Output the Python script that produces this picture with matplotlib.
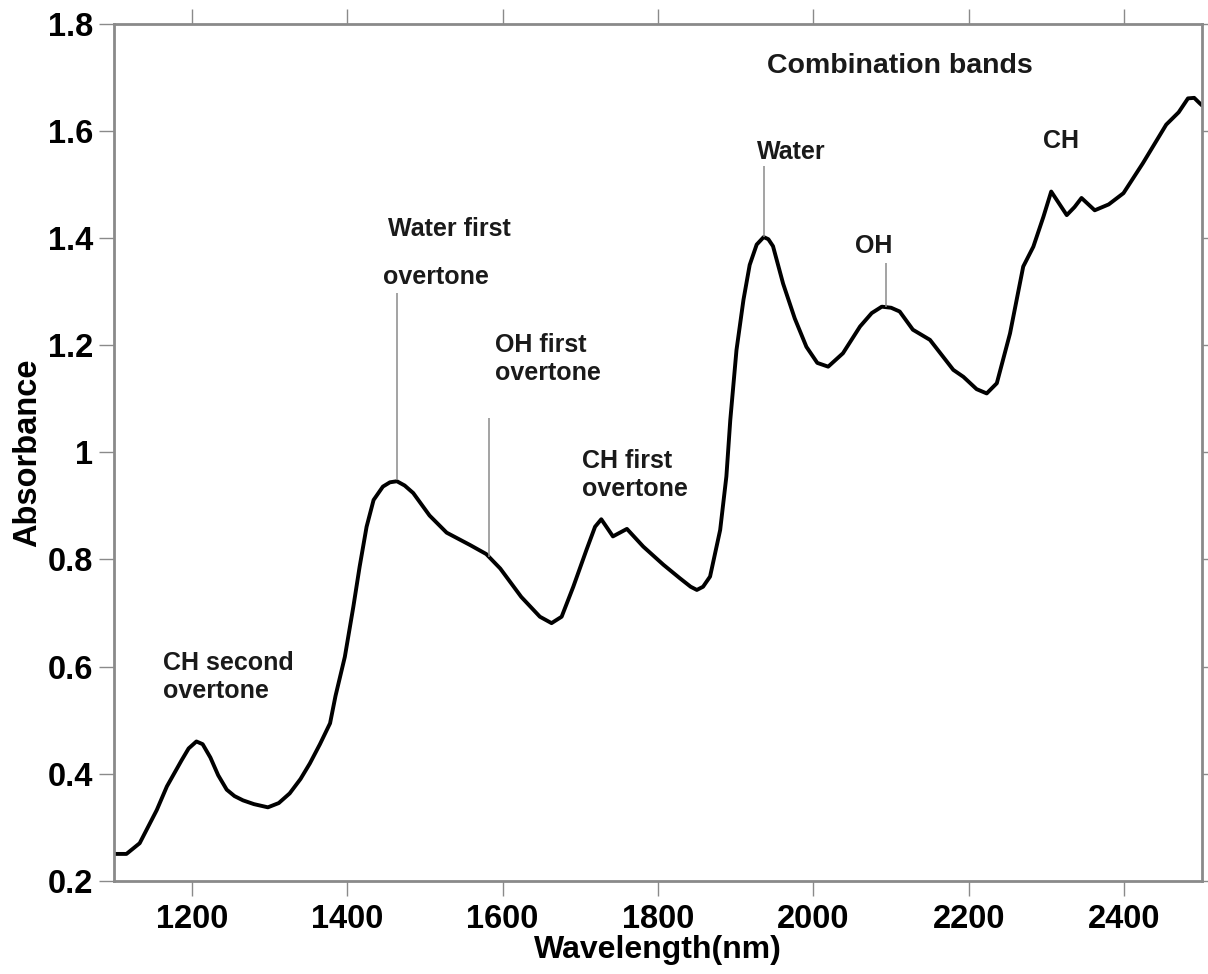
import matplotlib
matplotlib.use("Agg")
import matplotlib.pyplot as plt

# spectrum
wavelength = [1100, 1116, 1133, 1155, 1168, 1187, 1196, 1206, 1214, 1224,
              1234, 1245, 1255, 1266, 1280, 1298, 1312, 1326, 1340, 1352,
              1365, 1378, 1385, 1397, 1408, 1416, 1425, 1434, 1446, 1455,
              1464, 1474, 1485, 1506, 1528, 1558, 1579, 1597, 1624, 1648,
              1663, 1676, 1691, 1708, 1719, 1727, 1735, 1742, 1751, 1760,
              1781, 1807, 1828, 1842, 1850, 1858, 1867, 1880, 1888, 1893,
              1901, 1910, 1918, 1927, 1936, 1942, 1948, 1961, 1976, 1991,
              2005, 2019, 2038, 2060, 2075, 2088, 2100, 2111, 2128, 2150,
              2180, 2193, 2210, 2223, 2236, 2253, 2270, 2283, 2296, 2306,
              2316, 2326, 2336, 2345, 2362, 2380, 2399, 2424, 2454, 2470,
              2482, 2490, 2497, 2500]
absorbance = [0.250, 0.250, 0.270, 0.332, 0.376, 0.425, 0.447, 0.460, 0.455, 0.430,
              0.397, 0.370, 0.358, 0.350, 0.343, 0.337, 0.345, 0.363, 0.390, 0.419,
              0.455, 0.494, 0.545, 0.618, 0.712, 0.786, 0.861, 0.911, 0.936, 0.944,
              0.946, 0.938, 0.924, 0.882, 0.850, 0.827, 0.810, 0.783, 0.730, 0.693,
              0.681, 0.693, 0.749, 0.818, 0.861, 0.875, 0.858, 0.843, 0.850, 0.857,
              0.824, 0.790, 0.765, 0.749, 0.743, 0.749, 0.768, 0.855, 0.955, 1.060,
              1.191, 1.285, 1.350, 1.388, 1.402, 1.398, 1.385, 1.315, 1.250, 1.197,
              1.167, 1.160, 1.185, 1.235, 1.260, 1.272, 1.270, 1.263, 1.229, 1.210,
              1.154, 1.141, 1.118, 1.110, 1.129, 1.222, 1.347, 1.384, 1.440, 1.487,
              1.465, 1.443, 1.458, 1.475, 1.452, 1.463, 1.484, 1.540, 1.612, 1.635,
              1.661, 1.662, 1.652, 1.648]

# band marker lines: x, bottom, top
mark_x = [1464, 1582, 1936, 2094]
mark_lo = [0.948, 0.805, 1.403, 1.272]
mark_hi = [1.297, 1.064, 1.534, 1.353]

# labels: text, x, y, alignment, size
labels = ["Combination bands", "CH", "Water", "OH", "Water first", "overtone",
          "OH first\novertone", "CH first\novertone", "CH second\novertone"]
label_x = [2111, 2318, 1972, 2077, 1532, 1514, 1590, 1702, 1163]
label_y = [1.722, 1.581, 1.560, 1.386, 1.418, 1.328, 1.174, 0.957, 0.580]
label_ha = ["center", "center", "center", "center", "center", "center",
            "left", "left", "left"]
label_size = [20.5, 18, 18, 18, 18, 18, 18, 18, 18]

yticks = [0.2, 0.4, 0.6, 0.8, 1.0, 1.2, 1.4, 1.6, 1.8]
ytick_labels = ["0.2", "0.4", "0.6", "0.8", "1", "1.2", "1.4", "1.6", "1.8"]
xticks = [1200, 1400, 1600, 1800, 2000, 2200, 2400]

plt.rcParams['font.family'] = ['Liberation Sans', 'DejaVu Sans']
plt.rcParams['font.weight'] = 'bold'

fig = plt.figure(figsize=(12.08, 9.74), dpi=100)
ax = fig.add_axes([0.0944, 0.0958, 0.9006, 0.8796])

ax.plot(wavelength, absorbance, color='black', lw=2.8,
        solid_joinstyle='round', solid_capstyle='round')
ax.vlines(mark_x, mark_lo, mark_hi, color='#8a8a8a', lw=1.1)

for t, x, y, ha, fs in zip(labels, label_x, label_y, label_ha, label_size):
    ax.text(x, y, t, ha=ha, va='center', fontsize=fs, fontweight='bold',
            color='#1a1a1a', linespacing=1.2)

ax.set_xlim(1100, 2500)
ax.set_ylim(0.2, 1.8)
ax.set_xticks(xticks)
ax.set_yticks(yticks)
ax.set_yticklabels(ytick_labels)
ax.tick_params(axis='both', direction='out', length=11, width=1.0,
               color='#8a8a8a', labelsize=23.5, top=True, right=True)
ax.tick_params(axis='x', pad=6)
ax.tick_params(axis='y', pad=4)
for s in ax.spines.values():
    s.set_color('#8a8a8a')
    s.set_linewidth(2.0)

ax.set_xlabel('Wavelength(nm)', fontsize=23, fontweight='bold', labelpad=0)
ax.set_ylabel('Absorbance', fontsize=23.5, fontweight='bold', labelpad=3)

fig.savefig('out.png', dpi=100)
